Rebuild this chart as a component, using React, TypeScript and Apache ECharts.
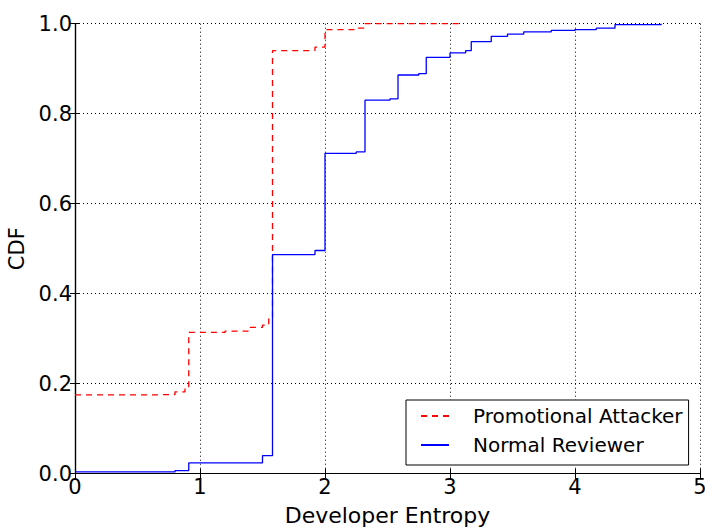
import React, { useEffect, useRef } from "react";
import * as echarts from "echarts";

const attackerX = [0, 0.6, 0.8, 0.88, 0.91, 1.2, 1.4, 1.5, 1.55, 1.58, 1.85, 1.92, 2.0, 2.25, 2.32, 3.1];
const attackerY = [0.175, 0.176, 0.182, 0.192, 0.314, 0.317, 0.325, 0.33, 0.344, 0.94, 0.941, 0.948, 0.987, 0.99, 1.0, 1.0];

const normalX = [0, 0.8, 0.91, 1.5, 1.58, 1.92, 2.0, 2.25, 2.32, 2.52, 2.584, 2.75, 2.81, 3.0, 3.125, 3.17, 3.33, 3.46, 3.59, 3.81, 4.0, 4.17, 4.32, 4.69];
const normalY = [0.004, 0.007, 0.024, 0.04, 0.487, 0.496, 0.712, 0.715, 0.83, 0.833, 0.886, 0.889, 0.925, 0.935, 0.94, 0.96, 0.972, 0.977, 0.982, 0.985, 0.987, 0.99, 0.998, 1.0];

const xTicks = [0, 1, 2, 3, 4, 5];
const yTicks = ["0.0", "0.2", "0.4", "0.6", "0.8", "1.0"];

const seriesNames = ["Promotional Attacker", "Normal Reviewer"];

export default function App() {
  const ref = useRef<HTMLDivElement>(null);
  useEffect(() => {
    if (!ref.current) return;
    const chart = echarts.init(ref.current, null, { renderer: "svg" });
    const font = "DejaVu Sans";
    const hiddenAxisCommon = {
      axisLabel: { show: false },
      splitLine: { show: false },
      axisLine: { show: true, lineStyle: { color: "#000", width: 1.2 } },
      axisTick: { show: true, inside: true, length: 5, lineStyle: { color: "#000" } },
    };
    chart.setOption({
      animation: false,
      backgroundColor: "#fff",
      textStyle: { fontFamily: font },
      grid: { left: 75, right: 5, top: 23.7, bottom: 53.3, containLabel: false, outerBoundsMode: "none" },
      legend: {
        show: true,
        orient: "vertical",
        left: 406,
        top: 400,
        data: seriesNames,
        itemWidth: 28,
        itemHeight: 14,
        itemGap: 9,
        padding: [6, 6, 10, 14],
        borderColor: "#000",
        borderWidth: 1,
        borderRadius: 0,
        backgroundColor: "#fff",
        itemStyle: { opacity: 0 },
        textStyle: { fontFamily: font, fontSize: 20, color: "#000", padding: [0, 0, 0, 19] },
      },
      xAxis: [
        {
          type: "value",
          min: 0,
          max: 5,
          interval: 1,
          name: "Developer Entropy",
          nameLocation: "middle",
          nameGap: 31,
          nameTextStyle: { fontFamily: font, fontSize: 22, color: "#000" },
          axisLine: { show: true, onZero: false, lineStyle: { color: "#000", width: 1.2 } },
          axisTick: { show: true, inside: true, length: 5, lineStyle: { color: "#000" } },
          axisLabel: {
            fontFamily: font,
            fontSize: 21,
            color: "#000",
            margin: 3,
            formatter: (v: number) => (xTicks.includes(v) ? String(v) : ""),
          },
          splitLine: { show: true, lineStyle: { color: "#000", type: [1, 3], width: 1 } },
        },
        { type: "value", position: "top", min: 0, max: 5, interval: 1, ...hiddenAxisCommon },
      ],
      yAxis: [
        {
          type: "value",
          min: 0,
          max: 1,
          interval: 0.2,
          name: "CDF",
          nameLocation: "middle",
          nameGap: 45,
          nameTextStyle: { fontFamily: font, fontSize: 21, color: "#000" },
          axisLine: { show: true, lineStyle: { color: "#000", width: 1.2 } },
          axisTick: { show: true, inside: true, length: 5, lineStyle: { color: "#000" } },
          axisLabel: {
            fontFamily: font,
            fontSize: 21,
            color: "#000",
            margin: 3,
            formatter: (v: number) => yTicks[Math.round(v * 5)] ?? "",
          },
          splitLine: { show: true, lineStyle: { color: "#000", type: [1, 3], width: 1 } },
        },
        { type: "value", position: "right", min: 0, max: 1, interval: 0.2, ...hiddenAxisCommon },
      ],
      series: [
        {
          name: seriesNames[0],
          type: "line",
          step: "end",
          showSymbol: false,
          symbol: "none",
          data: attackerX.map((x, i) => [x, attackerY[i]]),
          lineStyle: { color: "#ff0000", width: 1.3, type: [6, 5] },
          itemStyle: { color: "#ff0000" },
          z: 3,
        },
        {
          name: seriesNames[1],
          type: "line",
          step: "end",
          showSymbol: false,
          symbol: "none",
          data: normalX.map((x, i) => [x, normalY[i]]),
          lineStyle: { color: "#0000ff", width: 1.3 },
          itemStyle: { color: "#0000ff" },
          z: 4,
        },
      ],
    });
    return () => chart.dispose();
  }, []);
  return <div ref={ref} style={{ width: 705, height: 527, position: "absolute", left: 0, top: 0 }} />;
}
